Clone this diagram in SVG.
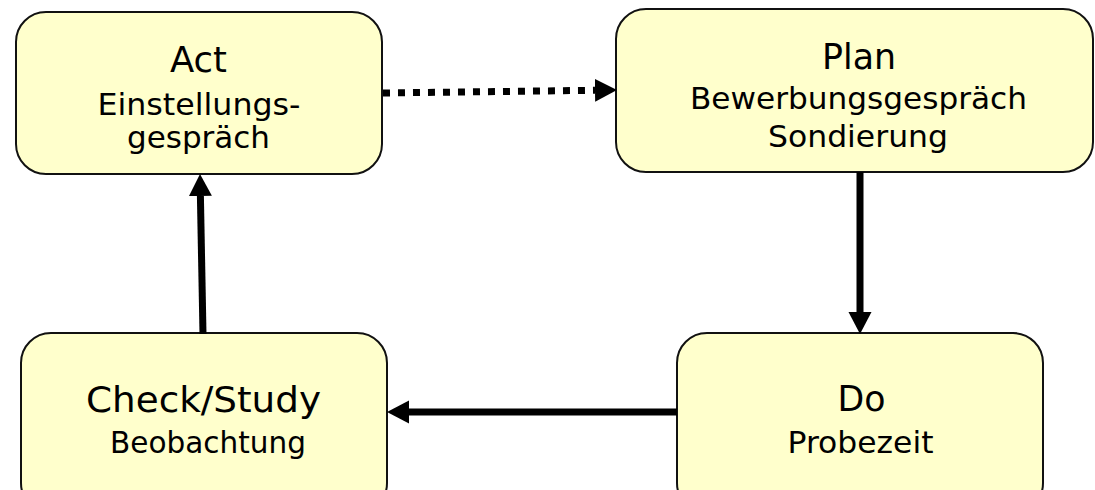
<svg xmlns="http://www.w3.org/2000/svg" width="1095" height="490" viewBox="0 0 1095 490">
  <style>
    .box { fill: #FFFFCC; stroke: #111; stroke-width: 2; }
    .title { font-family: "DejaVu Sans", Verdana, sans-serif; font-size: 36px; fill: #000; text-anchor: middle; }
    .sub { font-family: "DejaVu Sans", Verdana, sans-serif; font-size: 31px; fill: #000; text-anchor: middle; }
    .flow { stroke: #000; stroke-width: 7; fill: none; }
    .dotted { stroke: #000; stroke-width: 7; fill: none; stroke-dasharray: 7 8; }
  </style>
  <defs>
    <marker id="head" markerUnits="userSpaceOnUse" markerWidth="22" markerHeight="24" refX="0" refY="11.5" orient="auto" viewBox="0 0 22 23">
      <path d="M0,0 L22,11.5 L0,23 z" fill="#000"/>
    </marker>
  </defs>
  <rect width="1095" height="490" fill="#fff"/>

  <g id="act">
    <rect class="box" x="16" y="12" width="366" height="162" rx="30" ry="30"/>
    <text class="title" x="198.5" y="72" textLength="57" lengthAdjust="spacingAndGlyphs">Act</text>
    <text class="sub" x="199" y="115" textLength="203" lengthAdjust="spacingAndGlyphs">Einstellungs-</text>
    <text class="sub" x="198.5" y="148" textLength="143" lengthAdjust="spacingAndGlyphs">gespräch</text>
  </g>

  <g id="plan">
    <rect class="box" x="616" y="9" width="477" height="163" rx="30" ry="30"/>
    <text class="title" x="859" y="69" textLength="74" lengthAdjust="spacingAndGlyphs">Plan</text>
    <text class="sub" x="858.5" y="109" textLength="337" lengthAdjust="spacingAndGlyphs">Bewerbungsgespräch</text>
    <text class="sub" x="858" y="147" textLength="180" lengthAdjust="spacingAndGlyphs">Sondierung</text>
  </g>

  <g id="check">
    <rect class="box" x="21" y="333" width="366" height="180" rx="30" ry="30"/>
    <text class="title" x="203.5" y="412" textLength="235" lengthAdjust="spacingAndGlyphs">Check/Study</text>
    <text class="sub" x="208" y="453" textLength="196" lengthAdjust="spacingAndGlyphs">Beobachtung</text>
  </g>

  <g id="do">
    <rect class="box" x="677" y="333" width="366" height="180" rx="30" ry="30"/>
    <text class="title" x="861.5" y="411" textLength="48" lengthAdjust="spacingAndGlyphs">Do</text>
    <text class="sub" x="860.5" y="453" textLength="146" lengthAdjust="spacingAndGlyphs">Probezeit</text>
  </g>

  <g id="connectors">
    <!-- Act to Plan, dotted -->
    <line class="dotted" x1="383" y1="93" x2="595" y2="90.3" marker-end="url(#head)"/>
    <!-- Plan to Do -->
    <line class="flow" x1="860" y1="172" x2="860" y2="312" marker-end="url(#head)"/>
    <!-- Do to Check/Study -->
    <line class="flow" x1="677" y1="412" x2="409" y2="412" marker-end="url(#head)"/>
    <!-- Check/Study to Act -->
    <line class="flow" x1="203" y1="334" x2="200.4" y2="196" marker-end="url(#head)"/>
  </g>
</svg>
